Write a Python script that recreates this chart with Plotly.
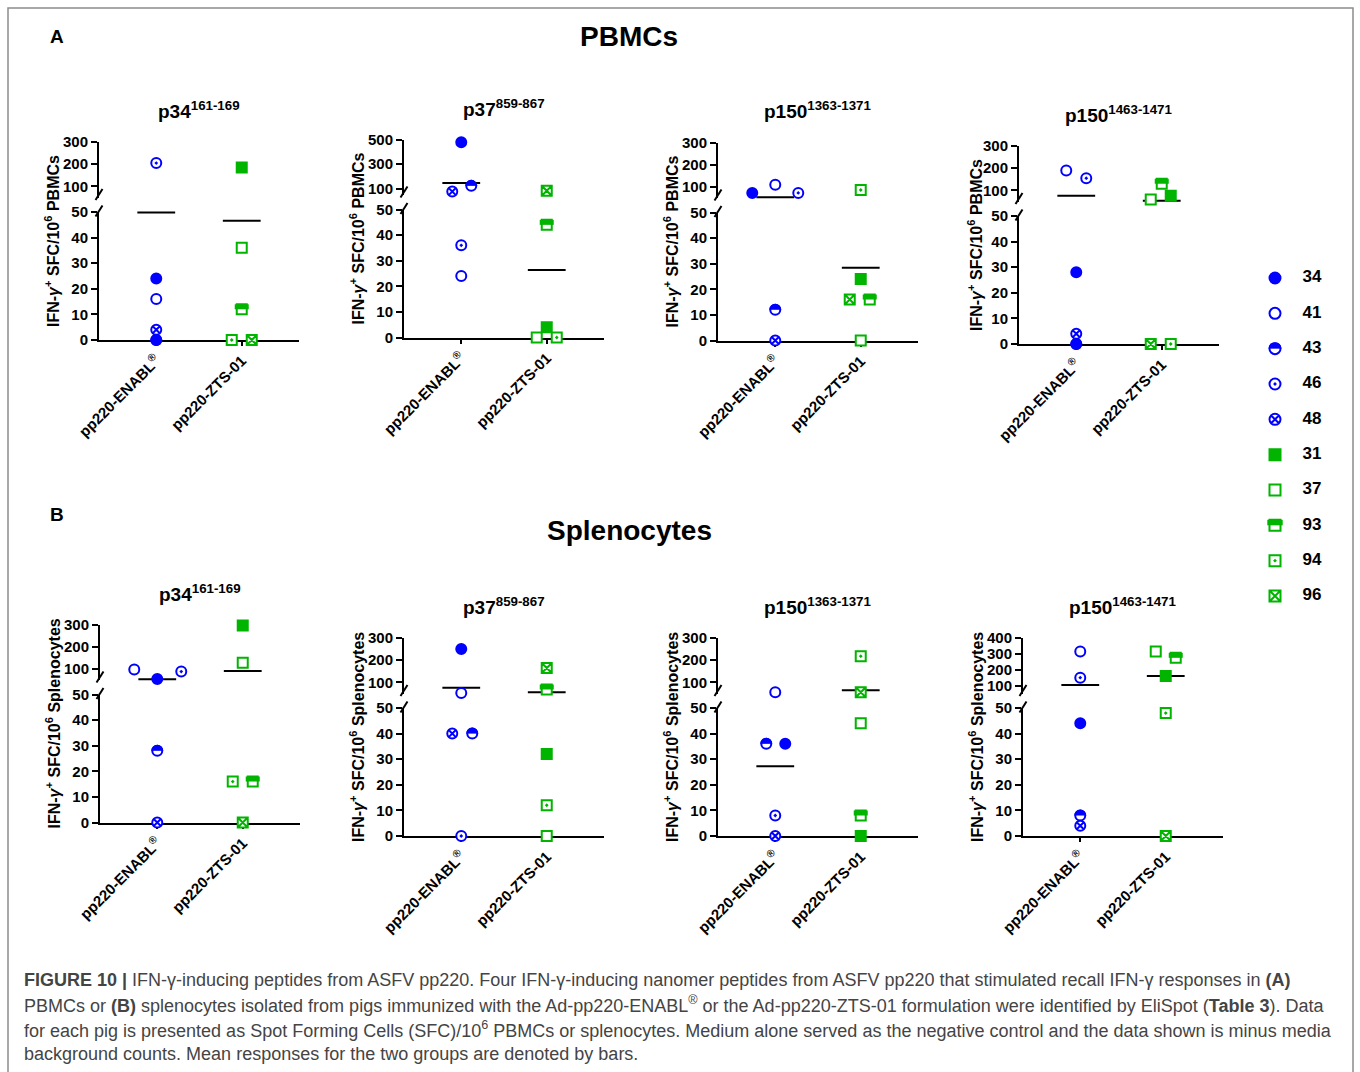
import plotly.graph_objects as go

W, H = 1360, 1072

# ---------------- data ----------------
ENABL_PIGS = ["34", "41", "43", "46", "48"]
ZTS_PIGS = ["31", "37", "93", "94", "96"]
GROUP_LABELS = ["pp220-ENABL<sup>®</sup>", "pp220-ZTS-01"]
PEPTIDES = ["p34<sup>161-169</sup>", "p37<sup>859-867</sup>",
            "p150<sup>1363-1371</sup>", "p150<sup>1463-1471</sup>"]
CELL_TYPES = ["PBMCs", "Splenocytes"]
SECTION_LETTERS = ["A", "B"]
LOWER_TICKS = [0, 10, 20, 30, 40, 50]

# values per pig, in the order of ENABL_PIGS / ZTS_PIGS
pbmc_p34_enabl = [24, 16, 0, 205, 4]
pbmc_p34_zts = [185, 36, 12, 0, 0]
pbmc_p37_enabl = [478, 24, 124, 36, 78]
pbmc_p37_zts = [4, 0, 44, 0, 84]
pbmc_p150a_enabl = [73, 110, 12, 73, 0]
pbmc_p150a_zts = [24, 0, 16, 86, 16]
pbmc_p150b_enabl = [28, 190, 0, 155, 4]
pbmc_p150b_zts = [76, 59, 130, 0, 0]
spl_p34_enabl = [54, 97, 28, 88, 0]
spl_p34_zts = [295, 128, 16, 16, 0]
spl_p37_enabl = [250, 52, 40, 0, 40]
spl_p37_zts = [32, 0, 68, 12, 165]
spl_p150a_enabl = [36, 56, 36, 8, 0]
spl_p150a_zts = [0, 44, 8, 218, 56]
spl_p150b_enabl = [44, 315, 8, 150, 4]
spl_p150b_zts = [160, 315, 275, 48, 0]

UPPER_TICKS = [[100, 200, 300], [100, 300, 500], [100, 200, 300], [100, 200, 300],
               [100, 200, 300], [100, 200, 300], [100, 200, 300], [100, 200, 300, 400]]

PANEL_DATA = [
    (pbmc_p34_enabl, pbmc_p34_zts), (pbmc_p37_enabl, pbmc_p37_zts),
    (pbmc_p150a_enabl, pbmc_p150a_zts), (pbmc_p150b_enabl, pbmc_p150b_zts),
    (spl_p34_enabl, spl_p34_zts), (spl_p37_enabl, spl_p37_zts),
    (spl_p150a_enabl, spl_p150a_zts), (spl_p150b_enabl, spl_p150b_zts),
]

CAPTION_LINES = [
    "<b>FIGURE 10 |</b> IFN-γ-inducing peptides from ASFV pp220. Four IFN-γ-inducing nanomer peptides from ASFV pp220 that stimulated recall IFN-γ responses in <b>(A)</b>",
    "PBMCs or <b>(B)</b> splenocytes isolated from pigs immunized with the Ad-pp220-ENABL<sup>®</sup> or the Ad-pp220-ZTS-01 formulation were identified by EliSpot (<b>Table 3</b>). Data",
    "for each pig is presented as Spot Forming Cells (SFC)/10<sup>6</sup> PBMCs or splenocytes. Medium alone served as the negative control and the data shown is minus media",
    "background counts. Mean responses for the two groups are denoted by bars.",
]

# ---------------- layout / style ----------------
FONT = "Liberation Sans, Arial, sans-serif"
CAPTION_FONT = "Liberation Sans, Arial, sans-serif"
BLUE = "#0000FF"
GREEN = "#00B400"
S = 10  # marker inner size

PANEL_LEFT = [99, 404, 718, 1019, 100, 404, 718, 1023]
PANEL_BOTTOM = [340, 337.5, 340.5, 344, 822.5, 836, 836, 836]
LH, GAP, UH, XW = 128, 14.5, 55.5, 200
XR = [-0.67, 1.67]
CAT_PX = XW / (XR[1] - XR[0])

DODGE_PX = [
    ([0, 0, 0, 0, 0], [0, 0, 0, -10, 10]),
    ([0, 0, 10, 0, -9], [0, -10, 0, 10, 0]),
    ([-23, 0, 0, 23, 0], [0, 0, 9, 0, -11]),
    ([0, -10, 0, 10, 0], [9, -11, 0, 9, -11]),
    ([0, -23, 0, 24, 0], [0, 0, 10, -10, 0]),
    ([0, 0, 11, 0, -9], [0, 0, 0, 0, 0]),
    ([10, 0, -9, 0, 0], [0, 0, 0, 0, 0]),
    ([0, 0, 0, 0, 0], [0, -10, 10, 0, 0]),
]

FILL = dict(zip(ENABL_PIGS, ["solid", "open", "half", "dot", "x"]))
FILL.update(dict(zip(ZTS_PIGS, ["solid", "open", "half", "dot", "x"])))


def xd(px):
    return px / W


def yd(py):
    return 1 - py / H


def axkey(kind, n):
    return kind if n == 1 else f"{kind}{n}"


def axref(kind, n):
    return kind[0] if n == 1 else f"{kind[0]}{n}"


def sc(xa, ya, x, y, **marker):
    return go.Scatter(x=[x], y=[y], xaxis=xa, yaxis=ya, mode="markers",
                      marker=marker, cliponaxis=False, hoverinfo="skip",
                      showlegend=False)


def point_traces(xa, ya, x, y, pig, kpx, s=S):
    """kpx: pixels per data unit on the y axis."""
    color = BLUE if pig in ENABL_PIGS else GREEN
    shape = "circle" if pig in ENABL_PIGS else "square"
    kind = FILL[pig]
    out = []
    if kind == "solid":
        out.append(sc(xa, ya, x, y, symbol=shape, size=s, color=color,
                      line=dict(width=2, color=color)))
    elif kind == "open":
        out.append(sc(xa, ya, x, y, symbol=shape, size=s, color="white",
                      line=dict(width=2, color=color)))
    elif kind == "dot":
        out.append(sc(xa, ya, x, y, symbol=shape + "-dot", size=s, color="white",
                      line=dict(width=2, color=color)))
    elif kind == "x":
        out.append(sc(xa, ya, x, y, symbol=shape + "-x", size=s, color="white",
                      line=dict(width=2, color=color)))
    elif kind == "half":
        if shape == "circle":
            w = s / 2 + 1.5
            out.append(sc(xa, ya, x, y, symbol="circle", size=s, color=color,
                          line=dict(width=2, color=color)))
            out.append(sc(xa, ya, x, y - (w / 2) / kpx, symbol="line-ew", size=s + 2,
                          color="white", line=dict(width=w, color="white")))
            out.append(sc(xa, ya, x, y, symbol="circle-open", size=s, color=color,
                          line=dict(width=2, color=color)))
        else:
            out.append(sc(xa, ya, x, y, symbol="square", size=s, color="white",
                          line=dict(width=2, color=color)))
            out.append(sc(xa, ya, x, y + (s / 4) / kpx, symbol="line-ew", size=s,
                          color=color, line=dict(width=s / 2, color=color)))
    return out


tickfont = dict(family=FONT, size=15, color="black", weight="bold")
layout = dict(template="none", width=W, height=H,
              margin=dict(l=0, r=0, t=0, b=0, pad=0, autoexpand=False),
              paper_bgcolor="white", plot_bgcolor="white", showlegend=False,
              font=dict(family=FONT, color="black"))
annotations = []
shapes = []
traces = []

yaxis_common = dict(showline=True, linewidth=2, linecolor="black", ticks="outside",
                    ticklen=6, tickwidth=2, tickcolor="black", showgrid=False,
                    zeroline=False, tickfont=tickfont, fixedrange=True, automargin=False)

for p in range(8):
    L, B = PANEL_LEFT[p], PANEL_BOTTOM[p]
    lower_top = B - LH
    upper_bottom = lower_top - GAP
    upper_top = upper_bottom - UH
    uticks = UPPER_TICKS[p]
    utop = uticks[-1]
    lo, up = 2 * p + 1, 2 * p + 2
    xdom = [xd(L), xd(L + XW)]

    layout[axkey("xaxis", lo)] = dict(
        domain=xdom, range=XR, anchor=axref("yaxis", lo), tickmode="array",
        tickvals=[0, 1], ticktext=GROUP_LABELS, tickangle=-45, showline=True,
        linewidth=2, linecolor="black", ticks="outside", ticklen=4, tickwidth=2,
        tickcolor="black", showgrid=False, zeroline=False, layer="below traces",
        tickfont=dict(family=FONT, size=15, color="black", weight="bold"),
        fixedrange=True, automargin=False)
    layout[axkey("yaxis", lo)] = dict(
        domain=[yd(B), yd(lower_top)], range=[0, 50], anchor=axref("xaxis", lo),
        tickmode="array", tickvals=LOWER_TICKS, layer="below traces", **yaxis_common)
    layout[axkey("xaxis", up)] = dict(domain=xdom, range=XR, anchor=axref("yaxis", up),
                                      visible=False, fixedrange=True, automargin=False)
    layout[axkey("yaxis", up)] = dict(
        domain=[yd(upper_bottom), yd(upper_top)], range=[50, utop],
        anchor=axref("xaxis", up), tickmode="array", tickvals=uticks,
        layer="below traces", **yaxis_common)

    k_lo = LH / 50.0
    k_up = UH / (utop - 50.0)
    xl, yl = axref("xaxis", lo), axref("yaxis", lo)
    xu, yu = axref("xaxis", up), axref("yaxis", up)

    # mean bars (behind points)
    for g, vals in enumerate(PANEL_DATA[p]):
        m = sum(vals) / len(vals)
        xa, ya = (xu, yu) if m > 50 else (xl, yl)
        traces.append(sc(xa, ya, g, m, symbol="line-ew", size=27, color="black",
                         line=dict(width=2, color="black")))

    # points
    for g, (vals, pigs) in enumerate(zip(PANEL_DATA[p], (ENABL_PIGS, ZTS_PIGS))):
        dodge = DODGE_PX[p][g]
        for v, pig, d in zip(vals, pigs, dodge):
            xv = g + d / CAT_PX
            if v > 50:
                traces += point_traces(xu, yu, xv, v, pig, k_up)
            else:
                traces += point_traces(xl, yl, xv, v, pig, k_lo)

    # axis break marks
    for cy in (upper_bottom - 3, lower_top - 1):
        shapes.append(dict(type="line", xref="paper", yref="paper",
                           x0=xd(L - 3.5), y0=yd(cy + 5.5), x1=xd(L + 3.5), y1=yd(cy - 5.5),
                           line=dict(color="black", width=2)))

    # panel title
    annotations.append(dict(text=f"<b>{PEPTIDES[p % 4]}</b>", x=xd(L + XW / 2),
                            y=yd(upper_top - 32), xref="paper", yref="paper",
                            showarrow=False, xanchor="center", yanchor="middle",
                            font=dict(family=FONT, size=19, color="black")))
    # y-axis title
    cell = CELL_TYPES[p // 4]
    annotations.append(dict(
        text=f"<b>IFN-<i>γ</i><sup>+</sup> SFC/10<sup>6</sup> {cell}</b>",
        x=xd(L - (44 if p == 3 else 47)), y=yd((B + upper_top) / 2),
        xref="paper", yref="paper", showarrow=False, textangle=-90,
        xanchor="center", yanchor="middle",
        font=dict(family=FONT, size=16, color="black")))

# section headers
for letter, cell, ly, cy in zip(SECTION_LETTERS, CELL_TYPES, (37, 514), (37, 531)):
    annotations.append(dict(text=f"<b>{letter}</b>", x=xd(57), y=yd(ly), xref="paper",
                            yref="paper", showarrow=False, xanchor="center",
                            yanchor="middle", font=dict(family=FONT, size=19, color="black")))
    annotations.append(dict(text=f"<b>{cell}</b>", x=xd(629), y=yd(cy), xref="paper",
                            yref="paper", showarrow=False, xanchor="center",
                            yanchor="middle", font=dict(family=FONT, size=28, color="black")))

# legend drawn on its own axis
LEG = 17
leg_pigs = ENABL_PIGS + ZTS_PIGS
n = len(leg_pigs)
leg_top, leg_step = 278, 35.33
layout[axkey("xaxis", LEG)] = dict(domain=[xd(1255), xd(1345)], range=[-20 / 37, 1 + 33 / 37],
                                   anchor=axref("yaxis", LEG), visible=False, fixedrange=True)
leg_y0 = leg_top + (n - 1) * leg_step
layout[axkey("yaxis", LEG)] = dict(domain=[yd(leg_y0 + 18), yd(leg_top - 18)],
                                   range=[-18 / leg_step, n - 1 + 18 / leg_step],
                                   anchor=axref("xaxis", LEG), visible=False, fixedrange=True)
for i, pig in enumerate(leg_pigs):
    traces += point_traces(axref("xaxis", LEG), axref("yaxis", LEG), 0, n - 1 - i, pig,
                           leg_step, s=11)
traces.append(go.Scatter(x=[1] * n, y=[n - 1 - i for i in range(n)], text=leg_pigs,
                         mode="text", xaxis=axref("xaxis", LEG), yaxis=axref("yaxis", LEG),
                         textfont=dict(family=FONT, size=17, color="black", weight="bold"),
                         textposition="middle center", cliponaxis=False,
                         hoverinfo="skip", showlegend=False))

# caption
for i, line in enumerate(CAPTION_LINES):
    annotations.append(dict(text=line, x=xd(22), y=yd(980 + 24.7 * i), xref="paper",
                            yref="paper", showarrow=False, xanchor="left", yanchor="middle",
                            font=dict(family=CAPTION_FONT, size=18, color="#444444")))

# frame
shapes.append(dict(type="rect", xref="paper", yref="paper", x0=xd(8), x1=xd(1353),
                   y0=-0.05, y1=yd(8), line=dict(color="#8c8c8c", width=1.5),
                   fillcolor="rgba(0,0,0,0)", layer="below"))

layout["annotations"] = annotations
layout["shapes"] = shapes

fig = go.Figure(data=traces, layout=layout)
fig.write_html("out.html", config={"displayModeBar": False})
